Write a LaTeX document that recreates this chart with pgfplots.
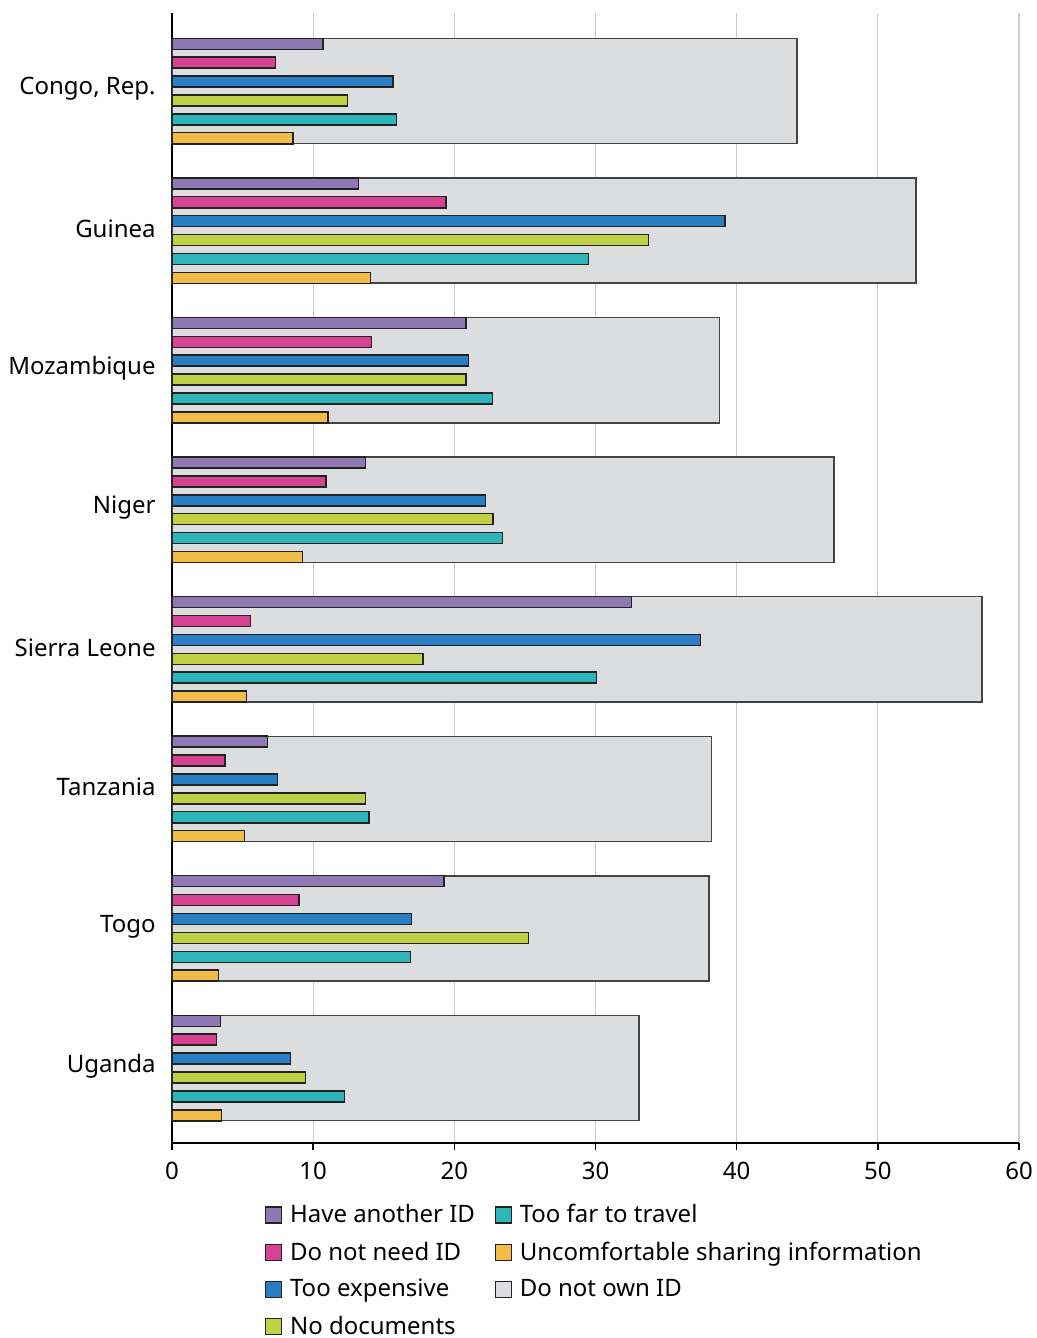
\documentclass[border=0pt]{standalone}
\usepackage{pgfplots}
\usepackage{pgfplotstable}
\pgfplotsset{compat=1.18}
\usepackage{fontspec}
\setmainfont{Noto Sans}
\definecolor{cpurple}{HTML}{8F78B4}
\definecolor{cmagenta}{HTML}{D64393}
\definecolor{cblue}{HTML}{2A7FC4}
\definecolor{cyg}{HTML}{C0D145}
\definecolor{cteal}{HTML}{2DB5BA}
\definecolor{corange}{HTML}{F2BC48}
\definecolor{cgrey}{HTML}{DCDDDF}
\definecolor{cborder}{HTML}{222222}
\definecolor{cgborder}{HTML}{444444}
\definecolor{gridgray}{HTML}{CCCCCC}

% y: Congo = 7 (top) ... Uganda = 0 (bottom)
\pgfplotstableread{
y other noneed expensive nodocs toofar uncomf notown
7 10.68 7.32 15.67 12.43 15.90 8.56 44.29
6 13.22 19.42 39.16 33.77 29.49 14.05 52.71
5 20.81 14.13 21.01 20.84 22.71 11.06 38.80
4 13.70 10.91 22.20 22.73 23.42 9.24 46.89
3 32.56 5.57 37.44 17.77 30.08 5.29 57.38
2 6.78 3.75 7.49 13.70 13.95 5.14 38.23
1 19.27 9.01 16.96 25.27 16.89 3.29 38.04
0 3.42 3.14 8.41 9.47 12.23 3.49 33.09
}\data

\begin{document}
\begin{tikzpicture}
\begin{axis}[
  name=ax,
  scale only axis, width=423.5pt, height=565pt,
  xmin=0, xmax=60, ymin=-0.537, ymax=7.559,
  axis lines*=left,
  axis line style={black, line width=0.7pt},
  xtick={0,10,...,60}, ytick={0,...,7},
  yticklabels={Uganda,Togo,Tanzania,Sierra Leone,Niger,Mozambique,Guinea,{Congo, Rep.}},
  tick align=outside, major tick length=3.5pt,
  xtick style={black, line width=0.7pt}, ytick style={draw=none},
  xmajorgrids, grid style={color=gridgray, line width=0.6pt},
  tick label style={font=\fontsize{12}{14}\selectfont},
  /pgf/number format/assume math mode=true,
  yticklabel style={inner sep=0pt, xshift=-4.5pt, yshift=1pt},
  xticklabel style={yshift=-2.5pt},
  legend columns=2, legend cell align=left,
  legend style={at={(0.5,0)}, anchor=north, yshift=-26.5pt, draw=none, fill=none,
    font=\fontsize{12}{14}\selectfont,
    /tikz/every odd column/.append style={column sep=1.8pt},
    /tikz/every even column/.append style={column sep=8pt}, row sep=4pt},
  legend image code/.code={\draw[#1, line width=0.6pt] (0pt,-4pt) rectangle (8pt,4pt);},
]
\addplot[xbar, bar width=0.754, bar shift=0, fill=cgrey, draw=cgborder, line width=0.75pt, forget plot] table[x=notown, y=y] {\data};
\addplot[xbar, bar width=0.079, bar shift=0.3385, fill=cpurple, draw=cborder, line width=0.75pt, forget plot] table[x=other, y=y] {\data};
\addplot[xbar, bar width=0.079, bar shift=0.2031, fill=cmagenta, draw=cborder, line width=0.75pt, forget plot] table[x=noneed, y=y] {\data};
\addplot[xbar, bar width=0.079, bar shift=0.0677, fill=cblue, draw=cborder, line width=0.75pt, forget plot] table[x=expensive, y=y] {\data};
\addplot[xbar, bar width=0.079, bar shift=-0.0677, fill=cyg, draw=cborder, line width=0.75pt, forget plot] table[x=nodocs, y=y] {\data};
\addplot[xbar, bar width=0.079, bar shift=-0.2031, fill=cteal, draw=cborder, line width=0.75pt, forget plot] table[x=toofar, y=y] {\data};
\addplot[xbar, bar width=0.079, bar shift=-0.3385, fill=corange, draw=cborder, line width=0.75pt, forget plot] table[x=uncomf, y=y] {\data};

\addlegendimage{fill=cpurple, draw=cborder}
\addlegendentry{Have another ID}
\addlegendimage{fill=cteal, draw=cborder}
\addlegendentry{Too far to travel}
\addlegendimage{fill=cmagenta, draw=cborder}
\addlegendentry{Do not need ID}
\addlegendimage{fill=corange, draw=cborder}
\addlegendentry{Uncomfortable sharing information}
\addlegendimage{fill=cblue, draw=cborder}
\addlegendentry{Too expensive}
\addlegendimage{fill=cgrey, draw=cborder}
\addlegendentry{Do not own ID}
\addlegendimage{fill=cyg, draw=cborder}
\addlegendentry{No documents}
\end{axis}
\pgfresetboundingbox
\path ([xshift=-86pt, yshift=6.5pt]ax.north west) rectangle ([xshift=9pt, yshift=-97.5pt]ax.south east);
\end{tikzpicture}
\end{document}
